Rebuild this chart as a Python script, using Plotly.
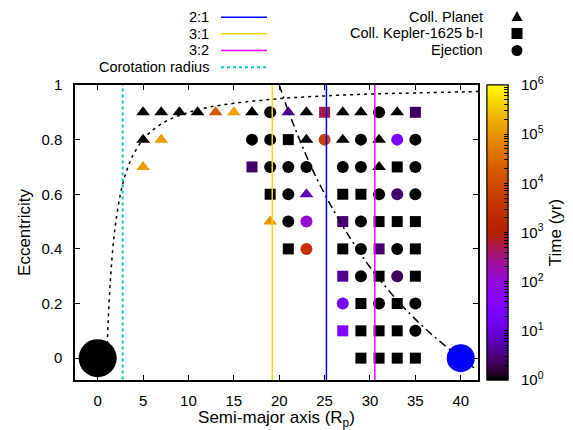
import math
import plotly.graph_objects as go

# ---------------- data ----------------
# Collision with planet (triangles): semi-major axis, eccentricity, log10(time/yr)
tri_a = [5, 7, 9, 11, 13, 15, 17, 21, 23, 27, 29, 33,
         5, 7, 23, 27, 31,
         5, 31,
         23,
         19]
tri_e = [0.9] * 12 + [0.8] * 5 + [0.7] * 2 + [0.6] + [0.5]
tri_t = [0, 0, 0, 0, 4.2, 5.15, 0, 0.6, 0, 0, 0, 0,
         0, 5.1, 0, 0, 0,
         5.1, 0,
         0.8,
         5.0]

# Collision with Kepler-1625 b-I (squares)
sq_a = [25, 35,
        21,
        17, 33,
        19, 27, 29,
        27, 31, 33, 35,
        21, 27, 31, 35,
        27, 31, 35,
        29, 33,
        27, 29, 31, 33,
        29, 31, 33, 35]
sq_e = [0.9] * 2 + [0.8] + [0.7] * 2 + [0.6] * 3 + [0.5] * 4 + [0.4] * 4 + \
       [0.3] * 3 + [0.2] * 2 + [0.1] * 4 + [0.0] * 4
sq_t = [2.7, 0.35,
        0,
        0.4, 0,
        0, 0, 0,
        0.45, 0, 0, 0,
        0, 0, 0.4, 0,
        0.6, 0, 0,
        0, 0,
        1.5, 0, 0, 0,
        0, 0, 0, 0]

# Ejections (circles)
ci_a = [19, 31,
        17, 19, 25, 29, 33, 35,
        19, 21, 23, 27, 29, 35,
        21, 31, 33, 35,
        21, 23, 29,
        23, 29, 33,
        29, 33,
        27, 31, 35,
        35]
ci_e = [0.9] * 2 + [0.8] * 6 + [0.7] * 6 + [0.6] * 4 + [0.5] * 3 + [0.4] * 3 + \
       [0.3] * 2 + [0.2] * 3 + [0.1]
ci_t = [0, 0,
        0, 0, 3.8, 0, 1.45, 0,
        0, 0, 0, 0, 0, 0,
        0, 0, 0.4, 0,
        0, 2.1, 0,
        3.5, 0, 0,
        0, 0.35,
        1.25, 0, 0,
        0]

# Resonances and corotation radius (semi-major axis)
res_names = ["2:1", "3:1", "3:2"]
res_a = [25.2, 19.23, 30.53]
res_colors = ["#0000FF", "#FFD700", "#FF00FF"]
corot_a = 2.75

# pericentre = planet radius curve
peri_a = [1.0, 1.1, 1.2, 1.35, 1.5, 1.75, 2.0, 2.5, 3.0, 3.5, 4.0, 5.0, 6.0,
          7.0, 8.0, 10, 12, 15, 20, 25, 30, 35, 42]
peri_e = [0.0, 0.09, 0.167, 0.26, 0.333, 0.43, 0.5, 0.6, 0.667, 0.714, 0.75,
          0.8, 0.833, 0.857, 0.875, 0.9, 0.917, 0.933, 0.95, 0.96, 0.967,
          0.971, 0.976]

# apocentre = perturber orbit curve
apo_a = [20, 21, 22, 23, 24, 26, 28, 30, 32, 34, 36, 38, 40, 41.8]
apo_e = [1.0, 0.905, 0.82, 0.74, 0.667, 0.54, 0.43, 0.333, 0.25, 0.176,
         0.111, 0.053, 0.0, -0.043]

# Central planet and perturber
body_a = [0, 40]
body_e = [0, 0]
body_colors = ["#000000", "#0000FF"]
body_sizes = [38, 28]

cb_tickvals = [0, 1, 2, 3, 4, 5, 6]
cb_ticktext = ["10<sup>%d</sup>" % k for k in cb_tickvals]

x_ticks = [0, 5, 10, 15, 20, 25, 30, 35, 40]
y_ticks = [0, 0.2, 0.4, 0.6, 0.8, 1]
y_ticktext = ["0", "0.2", "0.4", "0.6", "0.8", "1"]

# ---------------- style ----------------
FONT = "Liberation Sans, Arial, Helvetica, sans-serif"
OFF = 8  # page body margin of the browser
W, H = 573 - OFF, 430 - OFF
ML, MT = 75 - OFF, 85 - OFF
PW, PH = 403, 295
MR = W - ML - PW
MB = H - MT - PH


def px2x(p):
    return (p - OFF - ML) / PW


def py2y(p):
    return (MT + PH - (p - OFF)) / PH


# gnuplot default palette (rgbformulae 7,5,15)
cscale = []
N = 40
for i in range(N + 1):
    x = i / N
    r = math.sqrt(x)
    g = x ** 3
    b = max(0.0, min(1.0, math.sin(2 * math.pi * x)))
    cscale.append([x, "rgb(%d,%d,%d)" % (round(r * 255), round(g * 255), round(b * 255))])

# log minor tick positions for the colour box (styling only)
cb_all_ticks = [n + math.log10(k) for n in range(6) for k in range(1, 10)] + [6]

fig = go.Figure()

for a, e, t, sym, sz in [(tri_a, tri_e, tri_t, "triangle-up", 12),
                         (sq_a, sq_e, sq_t, "square", 11),
                         (ci_a, ci_e, ci_t, "circle", 12)]:
    fig.add_trace(go.Scatter(
        x=a, y=e, mode="markers",
        marker=dict(symbol=sym, size=sz, color=t, coloraxis="coloraxis",
                    opacity=1, line=dict(width=0)),
        showlegend=False, hoverinfo="skip"))

# pericentre curve
fig.add_trace(go.Scatter(x=peri_a, y=peri_e, mode="lines",
                         line=dict(color="black", width=1.5, dash="3px,4px", shape="spline"),
                         showlegend=False, hoverinfo="skip"))
# apocentre curve
fig.add_trace(go.Scatter(x=apo_a, y=apo_e, mode="lines",
                         line=dict(color="black", width=1.5, dash="8px,4px,2px,4px", shape="spline"),
                         showlegend=False, hoverinfo="skip"))

# resonance lines
for a, c in zip(res_a, res_colors):
    fig.add_trace(go.Scatter(x=[a, a], y=[-0.1, 1.05], mode="lines",
                             line=dict(color=c, width=1.5),
                             showlegend=False, hoverinfo="skip"))
# corotation
fig.add_trace(go.Scatter(x=[corot_a, corot_a], y=[-0.1, 1.05], mode="lines",
                         line=dict(color="#00C8C8", width=2, dash="3px,3px"),
                         showlegend=False, hoverinfo="skip"))

# bodies
fig.add_trace(go.Scatter(x=body_a, y=body_e, mode="markers",
                         marker=dict(size=body_sizes, color=body_colors, opacity=1,
                                     line=dict(width=0)),
                         opacity=1, showlegend=False, hoverinfo="skip"))

# invisible trace carrying a second colour bar (tick marks only)
fig.add_trace(go.Scatter(x=[None], y=[None], mode="markers",
                         marker=dict(color=[0], coloraxis="coloraxis2", size=1),
                         showlegend=False, hoverinfo="skip"))

# ---------------- legend (manual, gnuplot-style) ----------------
annotations = []
shapes = []
LFS = 14.5
left_labels = res_names + ["Corotation radius"]
left_colors = res_colors + ["#00C8C8"]
left_dash = ["solid", "solid", "solid", "dot"]
left_rows = [17.3, 33.8, 50.5, 67.2]
for lab, col, dsh, py in zip(left_labels, left_colors, left_dash, left_rows):
    annotations.append(dict(x=px2x(211), y=py2y(py), xref="paper", yref="paper",
                            text=lab, showarrow=False, xanchor="right", yanchor="middle",
                            font=dict(family=FONT, size=LFS, color="black")))
    shapes.append(dict(type="line", xref="paper", yref="paper",
                       x0=px2x(221), x1=px2x(267), y0=py2y(py), y1=py2y(py),
                       line=dict(color=col, width=2 if dsh == "dot" else 1.5,
                                 dash="3px,3px" if dsh == "dot" else "solid")))

right_labels = ["Coll. Planet", "Coll. Kepler-1625 b-I", "Ejection"]
right_rows = [16.5, 33.5, 50.5]
for lab, py in zip(right_labels, right_rows):
    annotations.append(dict(x=px2x(485), y=py2y(py), xref="paper", yref="paper",
                            text=lab, showarrow=False, xanchor="right", yanchor="middle",
                            font=dict(family=FONT, size=LFS, color="black")))
mx = px2x(517)
shapes.append(dict(type="path", xref="paper", yref="paper", xsizemode="pixel", ysizemode="pixel",
                   xanchor=mx, yanchor=py2y(right_rows[0]),
                   path="M -5.5,-4.5 L 5.5,-4.5 L 0,5.5 Z", fillcolor="black", line=dict(width=0)))
shapes.append(dict(type="rect", xref="paper", yref="paper", xsizemode="pixel", ysizemode="pixel",
                   xanchor=mx, yanchor=py2y(right_rows[1]),
                   x0=-5.5, x1=5.5, y0=-5.5, y1=5.5, fillcolor="black", line=dict(width=0)))
shapes.append(dict(type="circle", xref="paper", yref="paper", xsizemode="pixel", ysizemode="pixel",
                   xanchor=mx, yanchor=py2y(right_rows[2]),
                   x0=-5.5, x1=5.5, y0=-5.5, y1=5.5, fillcolor="black", line=dict(width=0)))

cb_common = dict(x=px2x(487), xanchor="left", xpad=0,
                 y=0.5, yanchor="middle", ypad=0,
                 len=1, lenmode="fraction", thickness=21, thicknessmode="pixels",
                 outlinewidth=1, outlinecolor="black")

fig.update_layout(
    width=W, height=H,
    margin=dict(l=ML, r=MR, t=MT, b=MB, pad=0, autoexpand=False),
    paper_bgcolor="white", plot_bgcolor="white",
    font=dict(family=FONT, size=15, color="black"),
    showlegend=False,
    annotations=annotations,
    shapes=shapes,
    coloraxis=dict(
        cmin=0, cmax=6, colorscale=cscale,
        colorbar=dict(
            **cb_common,
            tickvals=cb_tickvals, ticktext=cb_ticktext,
            ticks="outside", ticklen=10, tickcolor="rgba(0,0,0,0)", tickwidth=1,
            tickfont=dict(family=FONT, size=15, color="black"),
            title=dict(text="Time (yr)", side="right",
                       font=dict(family=FONT, size=17, color="black")),
        ),
    ),
    coloraxis2=dict(
        cmin=0, cmax=6, colorscale=cscale,
        colorbar=dict(
            **cb_common,
            tickvals=cb_all_ticks, showticklabels=False,
            ticks="inside", ticklen=4, tickcolor="black", tickwidth=1,
        ),
    ),
    xaxis=dict(
        range=[-2.5, 41.9], tickvals=x_ticks, ticks="inside", ticklen=5,
        tickwidth=1, tickcolor="black", showline=True, linecolor="black",
        linewidth=1.5, mirror="ticks", showgrid=False, zeroline=False,
        ticklabelstandoff=6, automargin=False,
        tickfont=dict(family=FONT, size=15),
        title=dict(text="Semi-major axis (R<sub>p</sub>)", standoff=2,
                   font=dict(family=FONT, size=17)),
    ),
    yaxis=dict(
        range=[-0.08, 1.0], tickvals=y_ticks, ticktext=y_ticktext, ticks="inside",
        ticklen=5, tickwidth=1, tickcolor="black", showline=True,
        linecolor="black", linewidth=1.5, mirror="ticks", showgrid=False,
        zeroline=False, ticklabelstandoff=8, automargin=False,
        tickfont=dict(family=FONT, size=15),
        title=dict(text="Eccentricity", standoff=6,
                   font=dict(family=FONT, size=17)),
    ),
)

fig.write_html("out.html")
